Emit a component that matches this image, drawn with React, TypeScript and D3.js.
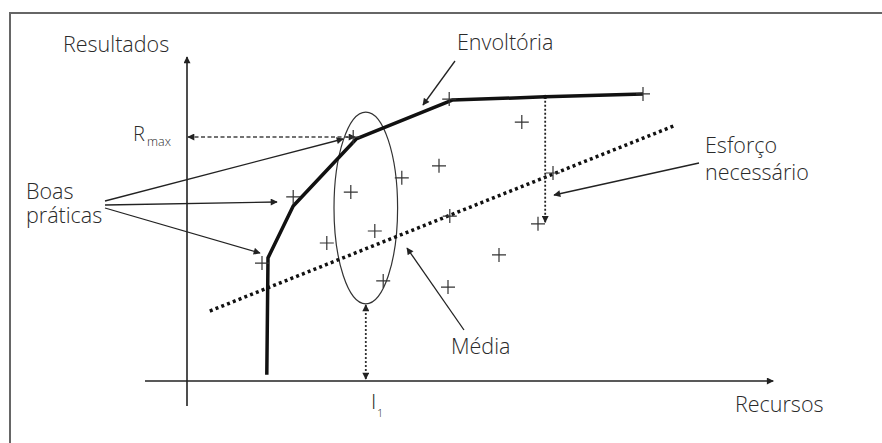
import * as React from 'react';
import * as d3 from 'd3';

// scatter of "practices": resources (x) vs results (y), arbitrary units
const pointsX = [1.25, 1.77, 2.77, 2.73, 3.58, 2.33, 3.13, 3.27, 4.2, 4.38, 4.35, 5.58, 6.1, 5.85, 5.2, 4.37, 7.6];
const pointsY = [3.64, 5.68, 7.53, 5.83, 6.27, 4.26, 4.63, 3.09, 6.64, 5.09, 2.9, 7.99, 6.42, 4.85, 3.89, 8.7, 8.86];

// envelope (best practices frontier)
const envelopeX = [1.33, 1.35, 1.77, 2.82, 4.42, 5.97, 7.6];
const envelopeY = [0.19, 3.8, 5.4, 7.47, 8.67, 8.77, 8.86];

// required effort line
const effortX = [0.38, 8.15];
const effortY = [2.16, 7.9];

// mean ellipse: center and radii
const meanCenter = [2.98, 5.34];
const meanRadii = [0.53, 2.96];

const rMax = 7.53;
const i1 = 2.98;
const gapX = 5.97;
const gapBottom = 4.9;

const axisX = [-0.7, 9.77];
const axisY = [-0.77, 10];

const FONT = "'Open Sans', 'Noto Sans', sans-serif";
const INK = '#222';
const TXT = '#2a2a2a';

export default function App() {
  const x = d3.scaleLinear().domain([0, 10]).range([187, 787]);
  const y = d3.scaleLinear().domain([0, 10]).range([381, 57]);

  const envLine = d3.line<number>()
    .x((_, i) => x(envelopeX[i]))
    .y((_, i) => y(envelopeY[i]));

  const cx = x(meanCenter[0]);
  const cy = y(meanCenter[1]);
  const rx = x(meanCenter[0] + meanRadii[0]) - cx;
  const ry = cy - y(meanCenter[1] + meanRadii[1]);

  const text = (t: string, tx: number, ty: number, size = 21.5) => (
    <text x={tx} y={ty} fontSize={size} fontFamily={FONT} fontWeight={300} fill={TXT}>{t}</text>
  );

  const pointer = (x1: number, y1: number, x2: number, y2: number) => (
    <line x1={x1} y1={y1} x2={x2} y2={y2} stroke={INK} strokeWidth={1.3} markerEnd="url(#tip)" />
  );

  return (
    <div style={{ position: 'absolute', left: 0, top: 0 }}>
      <svg width={882} height={443} style={{ display: 'block', background: '#fff' }}>
        <defs>
          <marker id="tip" viewBox="0 0 10 10" refX={9} refY={5} markerWidth={9} markerHeight={7} markerUnits="userSpaceOnUse" orient="auto-start-reverse">
            <path d="M0,0 L10,5 L0,10 z" fill={INK} />
          </marker>
          <marker id="axisTip" viewBox="0 0 10 10" refX={9} refY={5} markerWidth={10} markerHeight={7} markerUnits="userSpaceOnUse" orient="auto">
            <path d="M0,0 L10,5 L0,10 z" fill={INK} />
          </marker>
        </defs>

        {/* frame */}
        <path d="M10,443 L10,13 L882,13" fill="none" stroke="#666" strokeWidth={2} />

        {/* axes */}
        <line x1={x(0)} y1={y(axisY[0])} x2={x(0)} y2={y(axisY[1])} stroke={INK} strokeWidth={1.6} markerEnd="url(#axisTip)" />
        <line x1={x(axisX[0])} y1={y(0)} x2={x(axisX[1])} y2={y(0)} stroke={INK} strokeWidth={1.6} markerEnd="url(#axisTip)" />

        {/* mean ellipse */}
        <ellipse cx={cx} cy={cy} rx={rx} ry={ry} fill="none" stroke="#333" strokeWidth={1.2} />

        {/* required effort */}
        <line x1={x(effortX[0])} y1={y(effortY[0])} x2={x(effortX[1])} y2={y(effortY[1])}
          stroke="#111" strokeWidth={3.5} strokeDasharray="3 3.2" />

        {/* Rmax dashed double arrow */}
        <line x1={x(0) + 1} y1={y(rMax)} x2={x(2.8)} y2={y(rMax)} stroke="#444" strokeWidth={1.5}
          strokeDasharray="4 2.5" markerStart="url(#tip)" markerEnd="url(#tip)" />

        {/* I1 dotted double arrow */}
        <line x1={x(i1)} y1={y(0) - 2} x2={x(i1)} y2={cy + ry + 1} stroke="#333" strokeWidth={1.8}
          strokeDasharray="2 2" markerStart="url(#tip)" markerEnd="url(#tip)" />

        {/* gap between envelope and effort */}
        <line x1={x(gapX)} y1={y(envelopeY[5])} x2={x(gapX)} y2={y(gapBottom)} stroke="#222" strokeWidth={1.8}
          strokeDasharray="2 2" markerEnd="url(#tip)" />
        <circle cx={x(gapX)} cy={y(envelopeY[5])} r={2.2} fill="#111" />

        {/* envelope */}
        <path d={envLine(envelopeX) ?? ''} fill="none" stroke="#111" strokeWidth={3.5} strokeLinejoin="round" />

        {/* points */}
        {pointsX.map((px, i) => (
          <path key={i} d={`M${x(px) - 7},${y(pointsY[i])}h14M${x(px)},${y(pointsY[i]) - 7}v14`}
            stroke="#333" strokeWidth={1.2} />
        ))}

        {/* annotation pointers */}
        {pointer(105, 201, 343, 139)}
        {pointer(105, 205, 277, 202)}
        {pointer(105, 208, 260, 253)}
        {pointer(455, 61, 423, 105)}
        {pointer(699, 163, 554, 195)}
        {pointer(464, 330, 407, 248)}

        {/* labels */}
        {text('Resultados', 63, 52)}
        {text('Envoltória', 457, 50)}
        {text('R', 133, 141, 20)}
        {text('max', 147, 146, 12.5)}
        {text('Boas', 26, 199)}
        {text('práticas', 26, 223)}
        {text('Esforço', 705, 153)}
        {text('necessário', 705, 180)}
        {text('Média', 451, 354)}
        {text('I', 371, 409, 21)}
        {text('1', 377, 417, 11)}
        {text('Recursos', 735, 412)}
      </svg>
    </div>
  );
}
